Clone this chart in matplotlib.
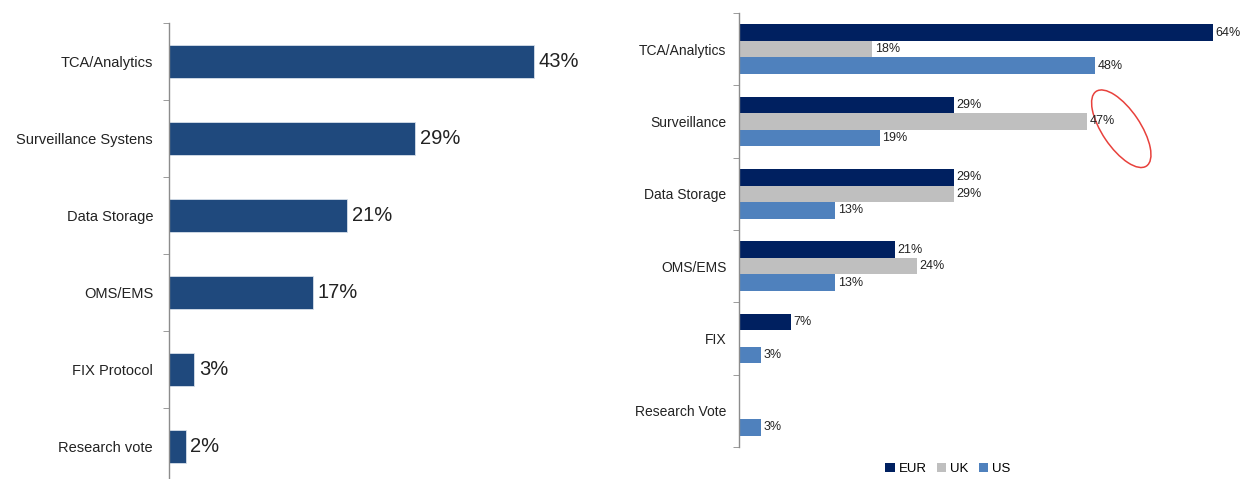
import matplotlib
matplotlib.use('Agg')
import matplotlib.pyplot as plt
import matplotlib.transforms as mtransforms
from matplotlib.patches import Ellipse
import numpy as np

plt.rcParams['font.family'] = ['Liberation Sans', 'DejaVu Sans']

# 左图数据
left_cats = ['TCA/Analytics', 'Surveillance Systens', 'Data Storage', 'OMS/EMS',
             'FIX Protocol', 'Research vote']
left_vals = [43, 29, 21, 17, 3, 2]

# 右图数据 (nan = 无柱)
right_cats = ['TCA/Analytics', 'Surveillance', 'Data Storage', 'OMS/EMS', 'FIX',
              'Research Vote']
eur = [64, 29, 29, 21, 7, np.nan]
uk = [18, 47, 29, 24, np.nan, np.nan]
us = [48, 19, 13, 13, 3, 3]
series_names = ['EUR', 'UK', 'US']

fig = plt.figure(figsize=(12.48, 4.79), dpi=100)

axis_grey = '#8c8c8c'

# ---------- 左图 ----------
ax1 = fig.add_axes([169 / 1248, 0.0, 441 / 1248, 1 - 23 / 479])
y1 = np.arange(len(left_cats))
ax1.barh(y1, left_vals, height=0.43, color='#1f497d', edgecolor='#d6dfea', linewidth=0.6)
for yy, v in zip(y1, left_vals):
    ax1.text(v + 0.5, yy, f'{v}%', va='center', ha='left', fontsize=14.5, color='#222222')
ax1.set_xlim(0, 51.9)
ax1.set_ylim(5.42, -0.5)
ax1.set_yticks(y1)
ax1.set_yticklabels(left_cats, fontsize=10.5, color='#222222')
ax1.set_yticks(np.arange(-0.5, 5.5, 1), minor=True)
ax1.tick_params(axis='y', which='major', length=0, pad=11.5)
ax1.tick_params(axis='y', which='minor', length=4, color=axis_grey, direction='out')
ax1.set_xticks([])
for s in ['top', 'right', 'bottom']:
    ax1.spines[s].set_visible(False)
ax1.spines['left'].set_color(axis_grey)
ax1.spines['left'].set_linewidth(1.0)

# ---------- 右图 ----------
ax2 = fig.add_axes([739 / 1248, 1 - 447 / 479, 506 / 1248, (447 - 13) / 479])
y2 = np.arange(len(right_cats))
h = 0.228
colors = ['#002060', '#bfbfbf', '#4f81bd']
for i, (vals, c, name) in enumerate(zip([eur, uk, us], colors, series_names)):
    pos = y2 + (i - 1) * h
    ax2.barh(pos, vals, height=h, color=c, label=name)
    for yy, v in zip(pos, vals):
        if not np.isnan(v):
            ax2.text(v + 0.35, yy, f'{v:.0f}%', va='center', ha='left', fontsize=9,
                     color='#222222')
ax2.set_xlim(0, 68.3)
ax2.set_ylim(5.5, -0.5)
ax2.set_yticks(y2)
ax2.set_yticklabels(right_cats, fontsize=10, color='#222222')
ax2.set_yticks(np.arange(-0.5, 6.0, 1), minor=True)
ax2.tick_params(axis='y', which='major', length=0, pad=9)
ax2.tick_params(axis='y', which='minor', length=4, color=axis_grey, direction='out')
ax2.set_xticks([])
for s in ['top', 'right', 'bottom']:
    ax2.spines[s].set_visible(False)
ax2.spines['left'].set_color(axis_grey)
ax2.spines['left'].set_linewidth(1.0)

# 红色椭圆标注 (47%)
trans = fig.dpi_scale_trans + mtransforms.ScaledTranslation(51.6, 1.1, ax2.transData)
ax2.add_patch(Ellipse((0, 0), 0.9, 0.38, angle=-56, transform=trans, fill=False,
                      edgecolor='#e8413c', linewidth=1.1, clip_on=False))

fig.legend(*ax2.get_legend_handles_labels(), loc='center',
           bbox_to_anchor=(948 / 1248, 1 - 469 / 479), ncol=3, frameon=False,
           fontsize=9.5, handlelength=0.7, handleheight=0.7, handletextpad=0.3,
           columnspacing=0.8)

fig.savefig('out.png', dpi=100)
